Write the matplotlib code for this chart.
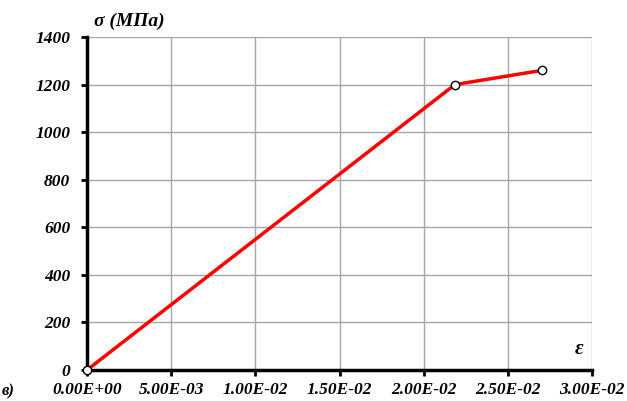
import numpy as np
from matplotlib import pyplot as plt

# stress-strain curve
strain = [0.0, 0.02186, 0.02705]
stress = [0.0, 1200.0, 1260.0]

xticks = [0.0, 0.005, 0.010, 0.015, 0.020, 0.025, 0.030]
xlabels = ['0.00E+00', '5.00E-03', '1.00E-02', '1.50E-02', '2.00E-02', '2.50E-02', '3.00E-02']
yticks = [0, 200, 400, 600, 800, 1000, 1200, 1400]

plt.rcParams['font.family'] = ['Liberation Serif', 'DejaVu Serif']
font = dict(fontweight='bold', fontstyle='italic')

fig = plt.figure(figsize=(6.27, 4.01), dpi=100)
ax = fig.add_axes([87/627, 1-370/401, 505/627, 333/401])

ax.plot(strain, stress, '-', color='#ff0000', lw=2.5, zorder=3, clip_on=False)
ax.plot(strain, stress, 'o', ms=6, mfc='white', mec='black', mew=1, zorder=4, clip_on=False)

ax.set_xlim(0, 0.03)
ax.set_ylim(0, 1400)
ax.set_xticks(xticks)
ax.set_xticklabels(xlabels, fontsize=12.5, **font)
ax.set_yticks(yticks)
ax.set_yticklabels([str(v) for v in yticks], fontsize=12.5, **font)
ax.grid(True, color='#a6a6a6', lw=1)
ax.set_axisbelow(True)

for s in ['top', 'right']:
    ax.spines[s].set_visible(False)
for s in ['left', 'bottom']:
    ax.spines[s].set_linewidth(2.5)
    ax.spines[s].set_zorder(2)
ax.tick_params(axis='y', direction='out', length=4, width=2, pad=8)
ax.tick_params(axis='x', direction='out', length=4, width=2, pad=5)

ax.text(0.0004, 1430, 'σ (MΠa)', fontsize=14, ha='left', va='bottom', **font)
fig.text(0.002, 0.003, 'в)', fontsize=12, ha='left', va='bottom', **font)
ax.text(0.0295, 45, 'ε', fontsize=15, ha='right', va='bottom', **font)

fig.savefig('out.png', dpi=100)
